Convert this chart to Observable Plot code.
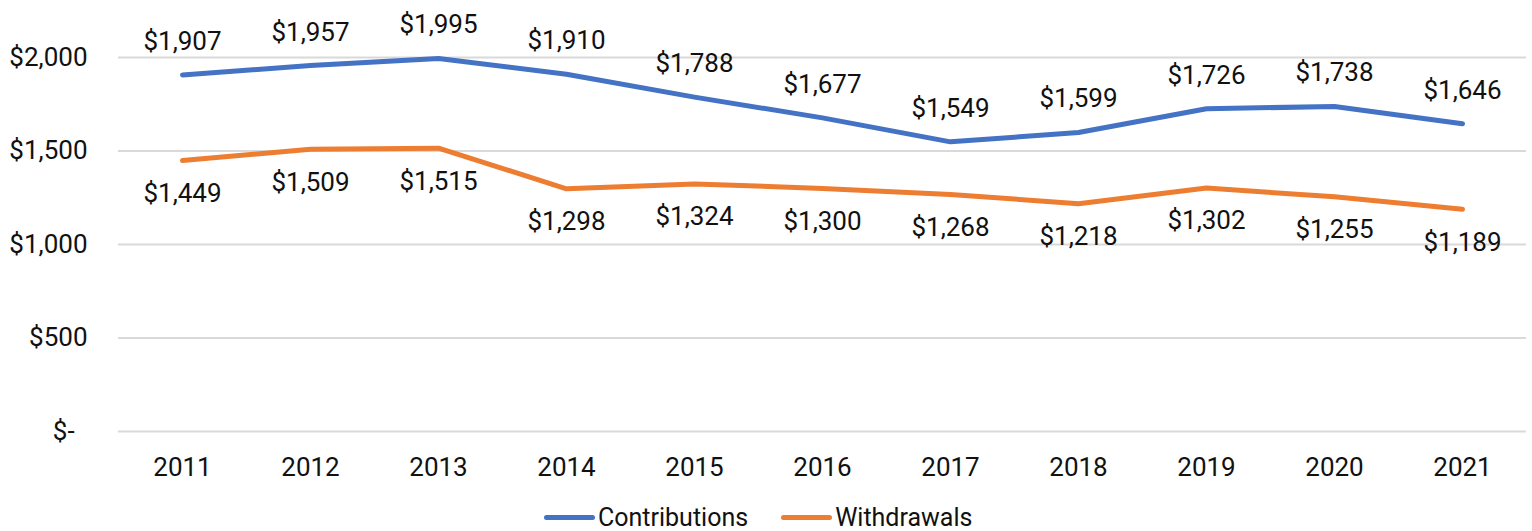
<!DOCTYPE html>
<html>
<head>
<meta charset="utf-8">
<script src="https://cdn.jsdelivr.net/npm/d3@7"></script>
<script src="https://cdn.jsdelivr.net/npm/@observablehq/plot@0.6"></script>
<style>
  html, body { margin: 0; padding: 0; background: #fff; }
  body { width: 1532px; height: 531px; position: relative; overflow: hidden; font-family: Roboto, sans-serif; }
  #legend { position: absolute; left: 544px; top: 503px; display: flex; align-items: center; font-size: 25px; color: #111; white-space: nowrap; }
  .item { display: flex; align-items: center; margin-right: 33px; }
  .sw { width: 51px; height: 5px; border-radius: 3px; margin-right: 3px; }
</style>
</head>
<body>
<div id="chart"></div>
<div id="legend"></div>
<script>
const years = ["2011","2012","2013","2014","2015","2016","2017","2018","2019","2020","2021"];
const contributions = [1907,1957,1995,1910,1788,1677,1549,1599,1726,1738,1646];
const withdrawals = [1449,1509,1515,1298,1324,1300,1268,1218,1302,1255,1189];
const seriesNames = ["Contributions","Withdrawals"];
const seriesColors = ["#4472C4","#ED7D31"];
const yTicks = [0,500,1000,1500,2000];

const cData = years.map((y,i) => ({year: y, value: contributions[i], series: seriesNames[0]}));
const wData = years.map((y,i) => ({year: y, value: withdrawals[i], series: seriesNames[1]}));
const money = d => "$" + d3.format(",")(d);

const chart = Plot.plot({
  width: 1532,
  height: 531,
  marginTop: 57,
  marginBottom: 100,
  marginLeft: 118,
  marginRight: 6,
  style: {fontFamily: "Roboto, sans-serif", fontSize: "26px", color: "#111", background: "#fff"},
  x: {type: "point", domain: years, padding: 0.5, label: null},
  y: {domain: [0, 2000], label: null},
  color: {domain: seriesNames, range: seriesColors},
  marks: [
    Plot.ruleY(yTicks, {stroke: "#d9d9d9", strokeWidth: 2}),
    Plot.axisY(yTicks, {tickSize: 0, tickPadding: 31, label: null, fontSize: 26,
      tickFormat: d => d === 0 ? "$-\u00a0\u00a0" : money(d)}),
    Plot.axisX({tickSize: 0, tickPadding: 26, label: null, fontSize: 26}),
    Plot.line(cData, {x: "year", y: "value", stroke: seriesColors[0], strokeWidth: 5, strokeLinecap: "round", strokeLinejoin: "round"}),
    Plot.line(wData, {x: "year", y: "value", stroke: seriesColors[1], strokeWidth: 5, strokeLinecap: "round", strokeLinejoin: "round"}),
    Plot.text(cData, {x: "year", y: "value", text: d => money(d.value), lineAnchor: "bottom", dy: -25, fill: "#111", fontSize: 26}),
    Plot.text(wData, {x: "year", y: "value", text: d => money(d.value), lineAnchor: "top", dy: 23, fill: "#111", fontSize: 26})
  ]
});
document.getElementById("chart").appendChild(chart);

const legend = document.getElementById("legend");
seriesNames.forEach((n, i) => {
  const item = document.createElement("div");
  item.className = "item";
  const sw = document.createElement("div");
  sw.className = "sw";
  sw.style.background = seriesColors[i];
  const t = document.createElement("span");
  t.textContent = n;
  item.appendChild(sw);
  item.appendChild(t);
  legend.appendChild(item);
});
</script>
</body>
</html>
